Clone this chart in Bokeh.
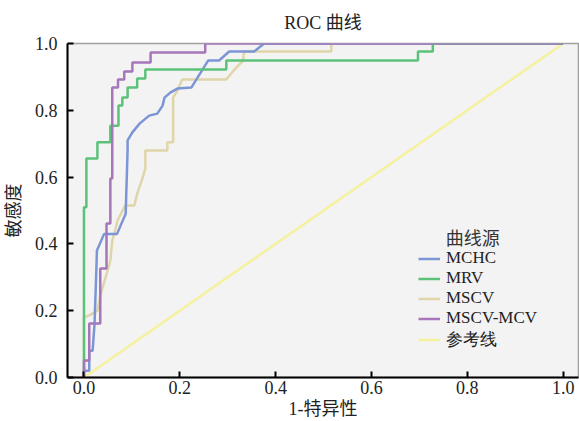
from bokeh.plotting import figure
from bokeh.models import Legend, LegendItem, Label, FixedTicker, PrintfTickFormatter, Range1d
from bokeh.embed import file_html
from bokeh.resources import INLINE

# ---- data ----
mchc_fpr = [0, 0, 0.011, 0.011, 0.018, 0.022, 0.026, 0.027, 0.042, 0.069, 0.087, 0.091, 0.091,
            0.101, 0.116, 0.136, 0.153, 0.164, 0.168, 0.18, 0.195, 0.224, 0.259, 0.282, 0.303,
            0.355, 0.376, 1.0]
mchc_tpr = [0, 0.02, 0.02, 0.08, 0.08, 0.16, 0.33, 0.38, 0.43, 0.43, 0.49, 0.68, 0.71,
            0.734, 0.76, 0.784, 0.79, 0.814, 0.838, 0.853, 0.865, 0.868, 0.949, 0.949, 0.976,
            0.976, 1.0, 1.0]

mrv_fpr = [0, 0, 0.005, 0.005, 0.028, 0.028, 0.055, 0.055, 0.072, 0.072, 0.080, 0.080, 0.091,
           0.091, 0.111, 0.111, 0.128, 0.128, 0.297, 0.297, 0.697, 0.697, 0.728, 0.728, 1.0]
mrv_tpr = [0, 0.51, 0.51, 0.656, 0.656, 0.704, 0.704, 0.754, 0.754, 0.814, 0.814, 0.838, 0.838,
           0.868, 0.868, 0.895, 0.895, 0.922, 0.922, 0.949, 0.949, 0.976, 0.976, 1.0, 1.0]

mscv_fpr = [0, 0, 0.011, 0.028, 0.034, 0.045, 0.055, 0.059, 0.064, 0.070, 0.086, 0.105, 0.111,
            0.118, 0.122, 0.128, 0.128, 0.174, 0.174, 0.186, 0.186, 0.195, 0.205, 0.297, 0.314,
            0.332, 0.334, 0.516, 0.516, 1.0]
mscv_tpr = [0, 0.18, 0.186, 0.20, 0.245, 0.30, 0.35, 0.41, 0.434, 0.47, 0.515, 0.515, 0.55,
            0.58, 0.596, 0.626, 0.68, 0.68, 0.704, 0.704, 0.838, 0.859, 0.892, 0.892, 0.922,
            0.949, 0.976, 0.976, 1.0, 1.0]

mscv_mcv_fpr = [0, 0, 0.011, 0.011, 0.034, 0.034, 0.047, 0.047, 0.055, 0.055, 0.059, 0.059,
                0.071, 0.071, 0.084, 0.084, 0.101, 0.101, 0.139, 0.139, 0.253, 0.253, 1.0]
mscv_mcv_tpr = [0, 0.051, 0.051, 0.162, 0.162, 0.326, 0.326, 0.461, 0.461, 0.596, 0.596, 0.868,
                0.868, 0.892, 0.892, 0.916, 0.916, 0.943, 0.943, 0.973, 0.973, 1.0, 1.0]

ref_fpr = [0, 1]
ref_tpr = [0, 1]

series_names = ["MCHC", "MRV", "MSCV", "MSCV-MCV", "参考线"]
series_colors = ["#7b95d6", "#5cc27a", "#e0d5a8", "#a676bb", "#f5f19c"]
ticks = [0.0, 0.2, 0.4, 0.6, 0.8, 1.0]

FONT = "Liberation Serif, Noto Sans CJK SC"

p = figure(width=579, height=421, output_backend="svg", toolbar_location=None,
           x_range=Range1d(-0.0344, 1.032), y_range=Range1d(0, 1.0),
           title="ROC 曲线", min_border_left=66, min_border_right=1,
           min_border_top=43, min_border_bottom=44)

p.background_fill_color = "#f3f3f3"
p.border_fill_color = "white"
p.outline_line_color = "#a0a0a0"
p.outline_line_width = 1.5
p.grid.visible = False

p.title.align = "center"
p.title.text_font = FONT
p.title.text_font_size = "18px"
p.title.text_font_style = "normal"
p.title.text_color = "#222222"
p.title.offset = 0
p.title.standoff = 21

for ax in (p.xaxis[0], p.yaxis[0]):
    ax.ticker = FixedTicker(ticks=ticks)
    ax.formatter = PrintfTickFormatter(format="%.1f")
    ax.axis_line_color = "black"
    ax.axis_line_width = 2
    ax.major_tick_line_color = "black"
    ax.major_tick_line_width = 2
    ax.major_tick_in = 6
    ax.major_tick_out = 0
    ax.minor_tick_line_color = None
    ax.major_label_text_font = FONT
    ax.major_label_text_font_size = "18px"
    ax.major_label_text_color = "#222222"
    ax.axis_label_text_font = FONT
    ax.axis_label_text_font_size = "18px"
    ax.axis_label_text_font_style = "normal"
    ax.axis_label_text_color = "#222222"

p.xaxis.axis_label = "1-特异性"
p.yaxis.axis_label = "敏感度"
p.xaxis.major_label_standoff = 3
p.xaxis.axis_label_standoff = 2
p.yaxis.major_label_standoff = 10
p.yaxis.axis_label_standoff = 8

xs = [mchc_fpr, mrv_fpr, mscv_fpr, mscv_mcv_fpr, ref_fpr]
ys = [mchc_tpr, mrv_tpr, mscv_tpr, mscv_mcv_tpr, ref_tpr]

# draw reference first so the curves sit above it
order = [4, 2, 0, 1, 3]
rmap = {}
for i in order:
    rmap[i] = p.line(xs[i], ys[i], line_color=series_colors[i], line_width=2.5)

items = [LegendItem(label=series_names[i], renderers=[rmap[i]]) for i in range(5)]
legend = Legend(items=items, location=(351, 26))
legend.background_fill_alpha = 0
legend.border_line_alpha = 0
legend.label_text_font = "Liberation Serif"
legend.label_text_font_size = "17px"
legend.label_text_color = "#222222"
legend.glyph_width = 22
legend.glyph_height = 17
legend.label_height = 17
legend.spacing = 0
legend.padding = 0
legend.margin = 0
legend.label_standoff = 6
p.add_layout(legend, "center")

legend_title = Label(x=0.755, y=0.416, text="曲线源", text_font=FONT, text_font_size="18px",
                     text_color="#333333", text_baseline="middle", text_align="left")
p.add_layout(legend_title)

open("out.html", "w").write(file_html(p, INLINE))
